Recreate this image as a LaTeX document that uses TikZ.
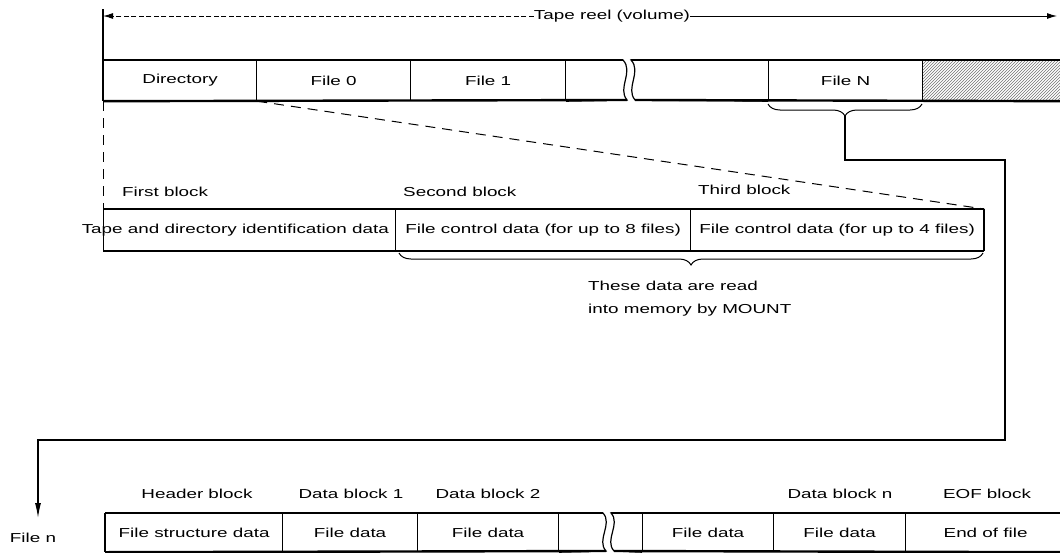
\documentclass[tikz,border=0pt]{standalone}
\usepackage{fontspec}
\setmainfont{Liberation Sans}[FakeStretch=1.45]
\usetikzlibrary{arrows.meta,decorations.pathreplacing,patterns}
\begin{document}
\begin{tikzpicture}[x=1pt,y=-1pt,
  font=\fontsize{13}{15}\selectfont,
  cell/.style={draw, line width=1.2pt, inner sep=0pt, minimum height=40pt, anchor=north west},
  lbl/.style={inner sep=0pt},
  frame/.style={line width=2.4pt},
  thin/.style={line width=1.2pt},
  proj/.style={line width=1pt, dash pattern=on 10pt off 7pt},
  conn/.style={line width=1.2pt},
  tip/.style={-{Latex[length=10pt,width=6pt]}},
  brc/.style={decorate, decoration={brace, amplitude=12pt}, line width=1pt}]
\useasboundingbox (0,0) rectangle (1060,552);

% ---------- dimension line ----------
\node[lbl] (reel) at (612,16) {Tape reel (volume)};
\coordinate (dimL) at (103,16);
\coordinate (dimR) at (1057,16);
\coordinate (extL) at (103,9);
\draw[line width=1pt, dash pattern=on 5pt off 2.5pt, tip] (reel.west) -- (dimL);
\draw[line width=1pt, tip] (reel.east) -- (dimR);

% ---------- tape row ----------
\node[cell, minimum width=153pt] (dir) at (103,60) {Directory};
\node[cell, minimum width=154pt] (f0) at (256,60) {File 0};
\node[cell, minimum width=155pt] (f1) at (410,60) {File 1};
\node[cell, minimum width=154pt] (fN) at (768,60) {File N};
\node[cell, minimum width=146pt, pattern=north east lines, pattern color=black!55] (hatch) at (922,60) {};
\draw[thin] (f1.north east) -- (623,60) .. controls (634,72) and (617,88) .. (627,100) -- (f1.south east);
\draw[thin] (fN.north west) -- (631,60) .. controls (642,72) and (625,88) .. (635,100) -- (fN.south west);
\draw[frame] (dir.north west) -- (623,60) (631,60) -- (hatch.north east);
\draw[frame] (dir.south west) -- (627,100) (635,100) -- (hatch.south east);
\draw[frame] (dir.north west) -- (dir.south west);
\draw[thin] (extL) -- (dir.north west);

% ---------- directory detail row ----------
\node[cell, minimum width=292pt, minimum height=41pt] (b1) at (103,209) {};
\node[lbl, anchor=east] (b1t) at (389,230) {Tape and directory identification data};
\node[cell, minimum width=295pt, minimum height=41pt] (b2) at (395,209) {File control data (for up to 8 files)};
\node[cell, minimum width=293pt, minimum height=41pt] (b3) at (690,209) {File control data (for up to 4 files)};
\draw[frame] (b1.north west) -- (b3.north east);
\draw[frame] (b1.south west) -- (b3.south east);
\draw[frame] (b3.north east) -- (b3.south east);

\node[lbl, anchor=west] (l1) at (122,192) {First block};
\node[lbl, anchor=west] (l2) at (403,192) {Second block};
\node[lbl, anchor=west] (l3) at (698,190) {Third block};

% projection lines
\draw[proj] (dir.south west) -- (b1.north west);
\draw[proj] (dir.south east) -- (b3.north east);

% brace under second and third blocks
\draw[brc] (983,253) -- (399,253);
\node[lbl, anchor=north west, align=left, font=\fontsize{13}{23}\selectfont] (mount) at (588,281) {These data are read\\into memory by MOUNT};

% brace under File N and connector
\draw[brc] (922,104) -- (768,104);
\coordinate (tipN) at (845,116);
\coordinate (arrowEnd) at (38,518);
\draw[conn, -{Latex[length=15pt,width=6pt]}] (tipN) |- (1005,160) |- (38,440) -- (arrowEnd);
\node[lbl] (filen) at (33,538) {File n};

% ---------- file row ----------
\node[cell, minimum width=177pt, minimum height=38pt] (hb) at (105,513) {File structure data};
\node[cell, minimum width=135pt, minimum height=38pt] (d1) at (282,513) {File data};
\node[cell, minimum width=141pt, minimum height=38pt] (d2) at (417,513) {File data};
\node[cell, minimum width=131pt, minimum height=38pt] (dn1) at (642,513) {File data};
\node[cell, minimum width=132pt, minimum height=38pt] (dn) at (773,513) {File data};
\node[cell, minimum width=160pt, minimum height=38pt] (eof) at (905,513) {End of file};
\draw[thin] (d2.north east) -- (603,513) .. controls (613,524) and (596,540) .. (606,551) -- (d2.south east);
\draw[thin] (dn1.north west) -- (611,513) .. controls (621,524) and (604,540) .. (614,551) -- (dn1.south west);
\draw[frame] (hb.north west) -- (603,513) (611,513) -- (eof.north east);
\draw[frame] (hb.south west) -- (606,551) (614,551) -- (eof.south east);
\draw[frame] (hb.north west) -- (hb.south west);

\node[lbl] (hbl) at (197,494) {Header block};
\node[lbl] (d1l) at (351,494) {Data block 1};
\node[lbl] (d2l) at (488,494) {Data block 2};
\node[lbl] (dnl) at (840,494) {Data block n};
\node[lbl] (eofl) at (987,494) {EOF block};
\end{tikzpicture}
\end{document}
